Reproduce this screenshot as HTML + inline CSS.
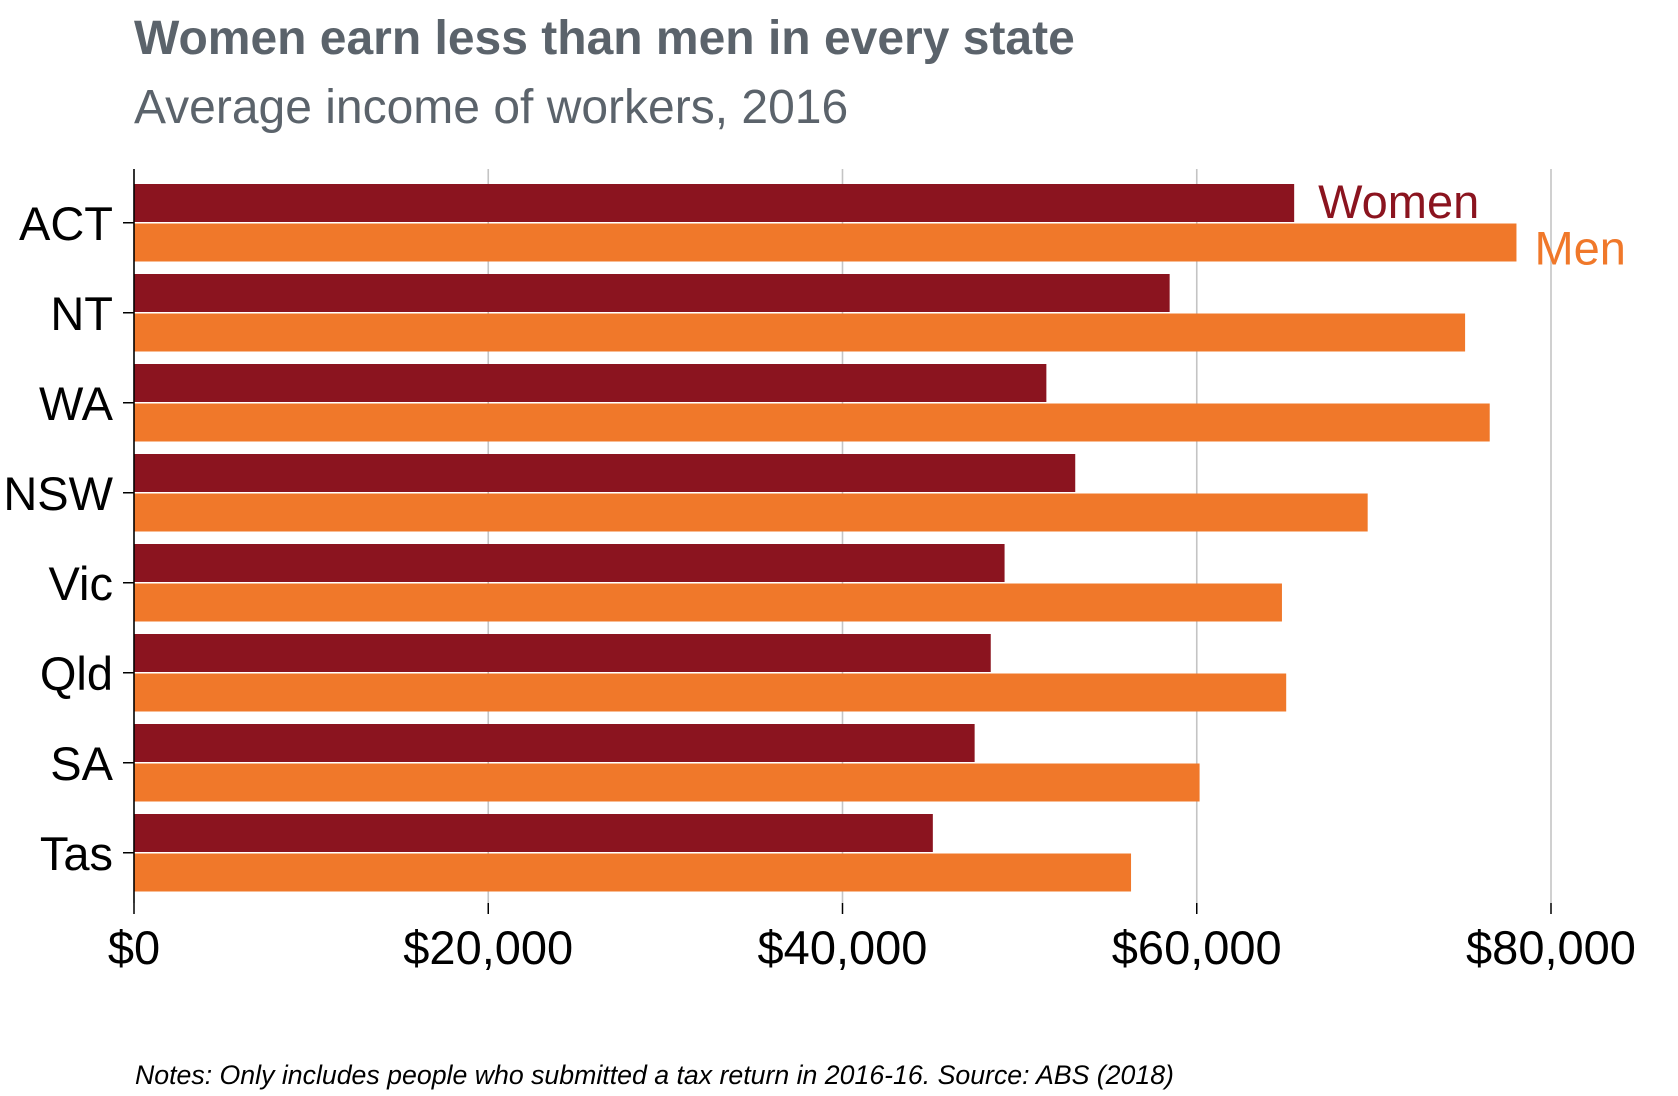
<!DOCTYPE html>
<html><head><meta charset="utf-8"><style>
html,body{margin:0;padding:0;background:#fff;}
svg{display:block;font-family:"Liberation Sans",Arial,sans-serif;}
</style></head><body>
<svg id="chart" width="1678" height="1096" viewBox="0 0 1678 1096">
<text x="134" y="54" font-size="48" font-weight="bold" fill="#5b636b">Women earn less than men in every state</text>
<text x="134" y="123" font-size="48" fill="#5b636b">Average income of workers, 2016</text>
<g id="grid"></g><g id="bars"></g><g id="axes"></g>
<text x="135" y="1084" font-size="26.7" font-style="italic" fill="#000">Notes: Only includes people who submitted a tax return in 2016-16. Source: ABS (2018)</text>
</svg>
<script>
const categories=["ACT","NT","WA","NSW","Vic","Qld","SA","Tas"];
const women=[65500,58470,51510,53140,49150,48370,47460,45100];
const men=[78050,75150,76540,69650,64810,65050,60160,56290];
const ticks=[0,20000,40000,60000,80000];
const tickLabels=["$0","$20,000","$40,000","$60,000","$80,000"];
const NS="http://www.w3.org/2000/svg";
const X0=134,X1=1551,TOP0=184,BAND=90,BH=38;
const xs=v=>X0+(X1-X0)*v/80000;
function mk(t,a,p){const e=document.createElementNS(NS,t);for(const k in a)e.setAttribute(k,a[k]);p.appendChild(e);return e;}
const grid=document.getElementById('grid'),bars=document.getElementById('bars'),axes=document.getElementById('axes');
ticks.forEach((t,i)=>{
 if(i>0){const g=mk('line',{x1:xs(t),x2:xs(t),y1:169,y2:903,stroke:'#c4c4c4','stroke-width':1.6},grid);
 
 }
 const tk=mk('line',{x1:xs(t),x2:xs(t),y1:903,y2:914,stroke:'#000','stroke-width':1.5},axes);
 
 
 const l=mk('text',{x:xs(t),y:964,'font-size':47,'text-anchor':'middle',fill:'#000'},axes);
 l.textContent=tickLabels[i];
 
 
});
categories.forEach((c,i)=>{
 const y=TOP0+i*BAND;
 const w=mk('rect',{x:X0,y:y,width:xs(women[i])-X0,height:BH,fill:'#8b141f'},bars);
 
 
 const m=mk('rect',{x:X0,y:y+BH+1.5,width:xs(men[i])-X0,height:BH,fill:'#f0782a'},bars);
 
 
 const cy=y+BH+0.75;
 const tk=mk('line',{x1:123,x2:X0,y1:cy,y2:cy,stroke:'#000','stroke-width':1.5},axes);
 
 
 const l=mk('text',{x:113,y:cy+17,'font-size':47,'text-anchor':'end',fill:'#000'},axes);
 l.textContent=c;
 
 
});
const ax=mk('line',{x1:X0,x2:X0,y1:169,y2:903,stroke:'#000','stroke-width':1.6},axes);


const lw=mk('text',{x:xs(women[0])+24,y:TOP0+34,'font-size':47,fill:'#8b141f'},axes);
lw.textContent='Women';


const lm=mk('text',{x:xs(men[0])+18,y:TOP0+BH+1.5+41,'font-size':47,fill:'#f0782a'},axes);
lm.textContent='Men';


</script>
</body></html>
